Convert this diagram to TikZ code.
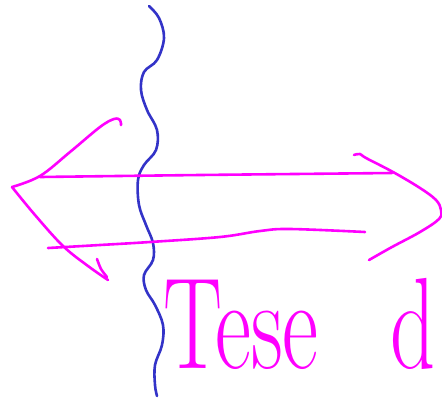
\documentclass[tikz,border=0pt]{standalone}
\begin{document}
\begin{tikzpicture}[x=1pt,y=-1pt,
  pen/.style={line width=2.6pt,line cap=round,line join=round},
  mag/.style={pen,draw={rgb,255:red,255;green,0;blue,255}},
  blu/.style={pen,draw={rgb,255:red,51;green,51;blue,200}},
  hand/.style={text={rgb,255:red,255;green,0;blue,255},inner sep=0pt,anchor=base west,xscale=0.68,font=\fontsize{130}{130}\selectfont}]
\useasboundingbox (0,0) rectangle (442,400);
\clip (0,0) rectangle (442,400);
\fill[white] (0,0) rectangle (442,400);
% blue wavy line
\draw[blu] plot[smooth,tension=0.6] coordinates {(149,6) (159,18) (164,38) (157,60) (144,72) (141,90) (147,110) (157,130) (156,150) (144,165) (138,180) (139,205) (146,225) (153,243) (153,260) (144,275) (146,290) (155,305) (163,325) (162,345) (155,365) (155,385) (157,396)};
% left arrowhead
\draw[mag] plot[smooth,tension=0.6] coordinates {(121,125) (120,120) (114,119) (100,127) (70,152) (40,176) (12,187)};
\draw[mag] plot[smooth,tension=0.6] coordinates {(12,187) (35,215) (63,246) (88,266) (108,280)};
\draw[mag] plot[smooth] coordinates {(97,259) (101,269) (107,277)};
% shafts
\draw[mag] plot[smooth] coordinates {(40,177) (200,175) (392,173)};
\draw[mag] plot[smooth,tension=0.6] coordinates {(48,248) (100,245) (150,242) (220,237) (260,231) (290,229) (365,232)};
% right arrowhead
\draw[mag] plot[smooth,tension=0.6] coordinates {(354,155) (360,154) (366,158) (393,172) (420,188) (436,200) (441,210) (439,219) (420,232) (392,247) (369,260)};
% text
\node[hand] (txt) at (163,368) {Tese\kern66pt\ d};
\end{tikzpicture}
\end{document}
